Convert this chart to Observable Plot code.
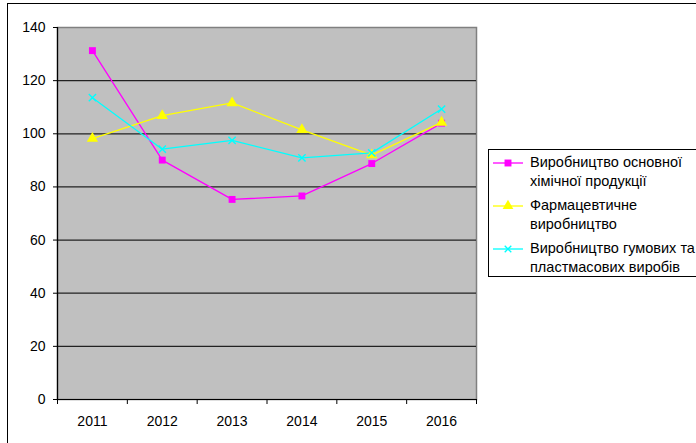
<!DOCTYPE html>
<html>
<head>
<meta charset="utf-8">
<script src="https://cdn.jsdelivr.net/npm/d3@7"></script>
<script src="https://cdn.jsdelivr.net/npm/@observablehq/plot@0.6"></script>
<style>
  html, body { margin: 0; padding: 0; background: #fff; }
  #wrap { position: relative; width: 696px; height: 443px; overflow: hidden; background: #fff; font-family: "Liberation Sans", Arial, sans-serif; }
  #outer { position: absolute; left: 7px; top: 3px; width: 720px; height: 480px; border: 1.5px solid #000; box-sizing: border-box; }
  #chart { position: absolute; left: 0; top: 0; }
  #legend { position: absolute; left: 488px; top: 149px; width: 240px; height: 128px; border: 1px solid #000; background: #fff; box-sizing: border-box; padding-top: 3px; }
  .item { display: flex; align-items: flex-start; margin-bottom: 5px; }
  .item svg { margin-left: 4px; margin-top: 3px; flex: none; }
  .item span { margin-left: 7px; font-size: 14.5px; line-height: 19px; color: #000; white-space: nowrap; }
</style>
</head>
<body>
<div id="wrap">
  <div id="outer"></div>
  <div id="chart"></div>
  <div id="legend"></div>
</div>
<script>
const years = [2011, 2012, 2013, 2014, 2015, 2016];
const chemical = [131.3, 90.1, 75.3, 76.6, 88.8, 104.0];
const pharma = [98.2, 106.8, 111.6, 101.5, 92.0, 104.3];
const rubber = [113.6, 94.2, 97.5, 90.9, 92.8, 109.3];
const seriesNames = [
  "Виробництво основної хімічної продукції",
  "Фармацевтичне виробництво",
  "Виробництво гумових та пластмасових виробів"
];
const legendLines = [
  ["Виробництво основної", "хімічної продукції"],
  ["Фармацевтичне", "виробництво"],
  ["Виробництво гумових та", "пластмасових виробів"]
];
const colors = ["#ff00ff", "#ffff00", "#00ffff"];
const yTicks = [0, 20, 40, 60, 80, 100, 120, 140];
const gridTicks = [20, 40, 60, 80, 100, 120];

const rows = [];
[chemical, pharma, rubber].forEach((arr, i) => {
  arr.forEach((v, j) => rows.push({year: years[j], value: v, series: seriesNames[i]}));
});
const bounds = d3.range(years[0] - 0.5, years[years.length - 1] + 1, 1);

const chart = Plot.plot({
  width: 696,
  height: 443,
  marginLeft: 57,
  marginRight: 220,
  marginTop: 27,
  marginBottom: 44,
  style: {fontFamily: "Liberation Sans, Arial, sans-serif", fontSize: "14px", color: "#000", background: "transparent"},
  x: {domain: [years[0] - 0.5, years[years.length - 1] + 0.5]},
  y: {domain: [0, 140]},
  color: {domain: seriesNames, range: colors},
  marks: [
    Plot.frame({fill: "#c0c0c0", stroke: "#808080", strokeWidth: 1.5}),
    Plot.ruleY(gridTicks, {stroke: "#222", strokeWidth: 1.2}),
    Plot.ruleY([0], {stroke: "#000", strokeWidth: 1.2}),
    Plot.ruleX([years[0] - 0.5], {stroke: "#000", strokeWidth: 1.2}),
    Plot.axisY({ticks: yTicks, tickSize: 4, tickPadding: 8, label: null, fontSize: 14, stroke: "#000"}),
    Plot.axisX({ticks: bounds, tickSize: 5, tickFormat: () => "", label: null, stroke: "#000"}),
    Plot.axisX({ticks: years, tickSize: 0, tickPadding: 17, tickFormat: d => String(d), label: null, fontSize: 14}),
    Plot.line(rows, {x: "year", y: "value", z: "series", stroke: "series", strokeWidth: 1.3}),
    Plot.dot(rows.filter(d => d.series === seriesNames[0]), {x: "year", y: "value", symbol: "square", r: 3.9, fill: colors[0]}),
    Plot.dot(rows.filter(d => d.series === seriesNames[1]), {x: "year", y: "value", symbol: "triangle", r: 4.2, fill: colors[1]}),
    Plot.dot(rows.filter(d => d.series === seriesNames[2]), {x: "year", y: "value", symbol: "times", r: 3.4, stroke: colors[2], strokeWidth: 1.4})
  ]
});
document.getElementById("chart").appendChild(chart);

// Legend
const legend = document.getElementById("legend");
const symbolPaths = [
  d3.symbol(d3.symbolSquare, 48)(),
  d3.symbol(d3.symbolTriangle, 50)(),
  d3.symbol(d3.symbolTimes, 30)()
];
legendLines.forEach((lines, i) => {
  const item = document.createElement("div");
  item.className = "item";
  const ns = "http://www.w3.org/2000/svg";
  const svg = document.createElementNS(ns, "svg");
  svg.setAttribute("width", 30);
  svg.setAttribute("height", 14);
  const line = document.createElementNS(ns, "line");
  line.setAttribute("x1", 0); line.setAttribute("x2", 30);
  line.setAttribute("y1", 7); line.setAttribute("y2", 7);
  line.setAttribute("stroke", colors[i]); line.setAttribute("stroke-width", 1.3);
  svg.appendChild(line);
  const p = document.createElementNS(ns, "path");
  p.setAttribute("d", symbolPaths[i]);
  p.setAttribute("transform", "translate(15,7)");
  if (i === 2) { p.setAttribute("fill", "none"); p.setAttribute("stroke", colors[i]); p.setAttribute("stroke-width", 1.3); }
  else p.setAttribute("fill", colors[i]);
  svg.appendChild(p);
  item.appendChild(svg);
  const span = document.createElement("span");
  span.innerHTML = lines.join("<br>");
  item.appendChild(span);
  legend.appendChild(item);
});
</script>
</body>
</html>
